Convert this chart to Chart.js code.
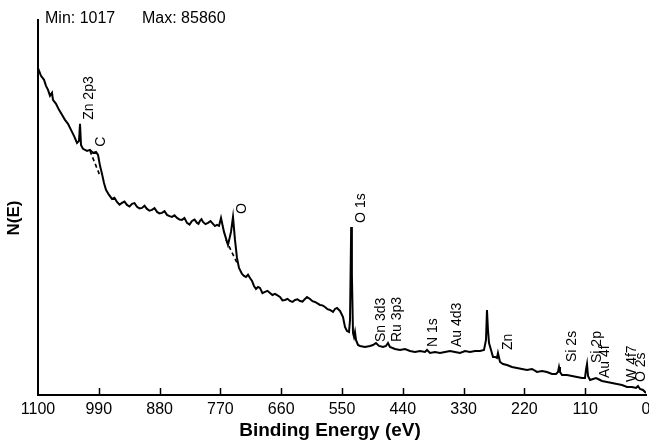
<!DOCTYPE html>
<html>
<head>
<meta charset="utf-8">
<script src="https://cdn.jsdelivr.net/npm/chart.js@4.4.1/dist/chart.umd.min.js"></script>
<style>
  html, body { margin: 0; padding: 0; background: #fff; }
  #wrap { width: 649px; height: 443px; }
</style>
</head>
<body>
<div id="wrap"><canvas id="xps"></canvas></div>
<script>
// Survey spectrum, binding energy (eV) and counts
const energies = [
  1100, 1094.6, 1089.1, 1085.5, 1081.9, 1078.3, 1074.7, 1072.9, 1067.4, 1062.0,
  1056.6, 1051.2, 1045.7, 1040.3, 1034.9, 1029.4, 1025.8, 1024.0, 1022.2, 1018.6,
  1011.3, 1005.9, 1000.5, 995.1, 991.4, 987.8, 984.2, 980.6, 977.0, 971.5,
  966.1, 961.6, 957.1, 952.5, 948.0, 943.5, 939.0, 934.4, 929.9, 925.4,
  920.9, 916.3, 911.8, 907.3, 902.8, 898.3, 893.8, 889.2, 884.7, 880.2,
  875.7, 871.1, 866.6, 862.1, 857.6, 853.0, 848.5, 844.0, 839.5, 835.0,
  830.4, 825.9, 821.4, 816.8, 812.3, 809.6, 806.9, 804.2, 801.5, 797.0,
  792.4, 787.9, 783.4, 779.8, 776.2, 772.5, 768.9, 763.5, 756.3, 750.8,
  747.2, 743.6, 740.0, 736.4, 730.9, 727.3, 723.7, 720.0, 716.4, 712.8,
  709.2, 705.6, 702.0, 698.4, 693.9, 689.3, 684.8, 680.3, 675.8, 671.2,
  666.7, 662.2, 657.7, 653.1, 648.6, 644.1, 639.5, 635.0, 630.5, 626.0,
  621.4, 616.9, 613.3, 607.9, 603.4, 598.9, 594.4, 589.8, 585.3, 580.8,
  576.2, 571.7, 566.3, 562.7, 559.0, 553.6, 548.2, 544.6, 541.0, 537.3,
  535.5, 533.4, 532.1, 530.1, 528.3, 526.5, 524.7, 521.1, 517.4, 508.4,
  499.3, 493.9, 488.5, 483.1, 475.8, 470.4, 466.8, 463.2, 454.1, 445.1,
  436.0, 427.0, 417.9, 408.9, 399.8, 396.2, 390.8, 381.7, 372.7, 363.7,
  354.6, 345.6, 336.5, 327.5, 318.4, 309.4, 300.3, 293.1, 289.5, 287.7,
  285.9, 284.0, 280.4, 276.8, 273.2, 269.6, 267.8, 264.1, 258.7, 251.5,
  242.4, 233.4, 224.3, 215.3, 206.3, 197.2, 188.2, 179.1, 170.1, 162.8,
  159.2, 157.4, 155.6, 152.0, 142.9, 133.9, 124.8, 115.8, 110.4, 108.6,
  106.7, 104.9, 101.3, 95.9, 90.5, 86.8, 79.6, 70.6, 61.5, 52.5,
  43.4, 34.4, 25.3, 18.1, 14.5, 10.9, 5.4, 0
];
const counts = [
  85860, 83820, 82780, 81210, 80170, 78600, 79380, 77550, 76510, 74940,
  73640, 72330, 71290, 69720, 68150, 66320, 66850, 71290, 65800, 64760,
  64230, 64490, 63710, 63970, 63190, 60320, 58230, 55870, 54050, 52740,
  51700, 52000, 50910, 50200, 50650, 51000, 50130, 49700, 50390, 50600,
  49610, 49200, 49340, 49900, 49080, 48600, 48820, 49300, 48300, 47900,
  48040, 48500, 47520, 47200, 46990, 47400, 46730, 46300, 46210, 46700,
  45430, 45000, 45950, 46300, 45430, 45200, 45950, 46400, 45690, 45100,
  45430, 45900, 45170, 44600, 44900, 44640, 46730, 43080, 39680, 43080,
  46990, 40990, 36280, 33670, 32110, 31600, 31320, 31900, 31060, 30280,
  28970, 28190, 28700, 28450, 27100, 27400, 27700, 27140, 26600, 26880,
  26500, 26100, 25200, 25310, 25600, 25050, 24800, 25310, 25500, 25050,
  24900, 25580, 26100, 25580, 25000, 24790, 24400, 24010, 23900, 23490,
  22900, 22700, 22180, 22960, 23220, 22440, 20870, 18260, 17220, 16960,
  20090, 44380, 32000, 16690, 15650, 16960, 14870, 13560, 13300, 13040,
  13300, 13560, 14080, 13300, 13040, 13300, 14080, 13040, 12520, 12250,
  12520, 11990, 11730, 11990, 11730, 12250, 11470, 11730, 11470, 11730,
  11990, 11730, 11470, 11990, 11730, 11990, 11990, 12250, 14870, 22700,
  17480, 14080, 12250, 10430, 10430, 10160, 11470, 9120, 8600, 8340,
  7810, 7550, 7290, 7030, 7290, 6510, 6770, 6510, 5990, 5990,
  6510, 7810, 6510, 5720, 5720, 5460, 5200, 4940, 4940, 7030,
  8600, 5460, 4420, 4680, 4940, 4680, 4160, 3900, 3630, 3370,
  3110, 2590, 2590, 2330, 2850, 2070, 1810, 1017
];

// Dashed background lines under the C and O features
const bgCEnergy = [1005.9, 987.8];
const bgCCounts = [64230, 57700];
const bgOEnergy = [759.9, 738.2];
const bgOCounts = [40990, 34460];

// Peak labels (anchored at the bottom of the rotated text)
const peakNames = ['Zn 2p3', 'C', 'O', 'O 1s', 'Sn 3d3', 'Ru 3p3', 'N 1s', 'Au 4d3',
                   'Zn', 'Si 2s', 'Si 2p', 'Au 4f', 'W 4f7', 'O 2s'];
const peakEnergy = [1007.7, 986.0, 730.9, 515.6, 479.4, 450.5, 385.4, 341.9,
                    249.7, 133.9, 88.7, 74.2, 25.3, 9.1];
const peakCounts = [72330, 65280, 47780, 45430, 14340, 14340, 13040, 13040,
                    12250, 9120, 8860, 4940, 3900, 3900];

const xTicks = [1100, 990, 880, 770, 660, 550, 440, 330, 220, 110, 0];

const minCount = 1017;
const maxCount = 85860;

const fontFamily = '"Liberation Sans", Arial, Helvetica, sans-serif';

function pairs(xs, ys) {
    return xs.map((x, i) => ({ x: x, y: ys[i] }));
}

// draws the peak labels, axis titles, the min/max line and the inward tick marks
const decorPlugin = {
    id: 'decor',
    afterDatasetsDraw(chart) {
        const ctx = chart.ctx;
        const xs = chart.scales.x;
        const ys = chart.scales.y;
        const area = chart.chartArea;

        ctx.save();
        ctx.fillStyle = '#000';
        ctx.font = '14px ' + fontFamily;
        ctx.textAlign = 'left';
        ctx.textBaseline = 'middle';
        peakNames.forEach((name, i) => {
            const px = xs.getPixelForValue(peakEnergy[i]);
            const py = ys.getPixelForValue(peakCounts[i]);
            ctx.save();
            ctx.translate(px, py);
            ctx.rotate(-Math.PI / 2);
            ctx.fillText(name, 0, 0);
            ctx.restore();
        });

        // inward ticks on the energy axis
        ctx.strokeStyle = '#000';
        ctx.lineWidth = 1.5;
        xTicks.forEach(v => {
            if (v === 0 || v === 1100) return;
            const px = Math.round(xs.getPixelForValue(v)) + 0.5;
            ctx.beginPath();
            ctx.moveTo(px, area.bottom);
            ctx.lineTo(px, area.bottom - 7);
            ctx.stroke();
        });

        ctx.font = '16px ' + fontFamily;
        ctx.fillText('Min: ' + minCount, area.left + 7, area.top - 1);
        ctx.fillText('Max: ' + maxCount, area.left + 104, area.top - 1);

        // axis titles
        ctx.font = 'bold 19px ' + fontFamily;
        ctx.textAlign = 'center';
        ctx.fillText('Binding Energy (eV)', area.left + 292, area.bottom + 36);
        ctx.save();
        ctx.translate(14, area.top + 198);
        ctx.rotate(-Math.PI / 2);
        ctx.font = 'bold 17px ' + fontFamily;
        ctx.fillText('N(E)', 0, 0);
        ctx.restore();
        ctx.restore();
    }
};

const ctx = document.getElementById('xps').getContext('2d');
new Chart(ctx, {
    type: 'line',
    data: {
        datasets: [
            {
                data: pairs(energies, counts),
                borderColor: '#000',
                borderWidth: 2,
                pointRadius: 0,
                tension: 0,
                fill: false
            },
            {
                data: pairs(bgCEnergy, bgCCounts),
                borderColor: '#000',
                borderWidth: 1.6,
                borderDash: [4, 3],
                pointRadius: 0,
                fill: false
            },
            {
                data: pairs(bgOEnergy, bgOCounts),
                borderColor: '#000',
                borderWidth: 1.6,
                borderDash: [4, 3],
                pointRadius: 0,
                fill: false
            }
        ]
    },
    options: {
        responsive: true,
        maintainAspectRatio: false,
        animation: false,
        layout: { padding: { top: 20, right: 3, left: 0, bottom: 0 } },
        plugins: {
            legend: { display: false },
            tooltip: { enabled: false }
        },
        scales: {
            x: {
                type: 'linear',
                reverse: true,
                min: 0,
                max: 1100,
                afterBuildTicks: scale => {
                    scale.ticks = xTicks.map(v => ({ value: v }));
                },
                afterFit: scale => {
                    scale.height = 48;
                    scale.paddingLeft = 0;
                    scale.paddingRight = 0;
                },
                ticks: {
                    color: '#000',
                    font: { size: 16, family: fontFamily },
                    padding: 5,
                    maxRotation: 0,
                    autoSkip: false,
                    callback: v => String(v)
                },
                grid: { display: false, drawTicks: false },
                border: { display: true, color: '#000', width: 2 },
                title: { display: false }
            },
            y: {
                type: 'linear',
                min: 500,
                max: 98400,
                afterFit: scale => { scale.width = 38; },
                ticks: { display: false },
                grid: { display: false, drawTicks: false },
                border: { display: true, color: '#000', width: 2 },
                title: { display: false }
            }
        }
    },
    plugins: [decorPlugin]
});
</script>
</body>
</html>
